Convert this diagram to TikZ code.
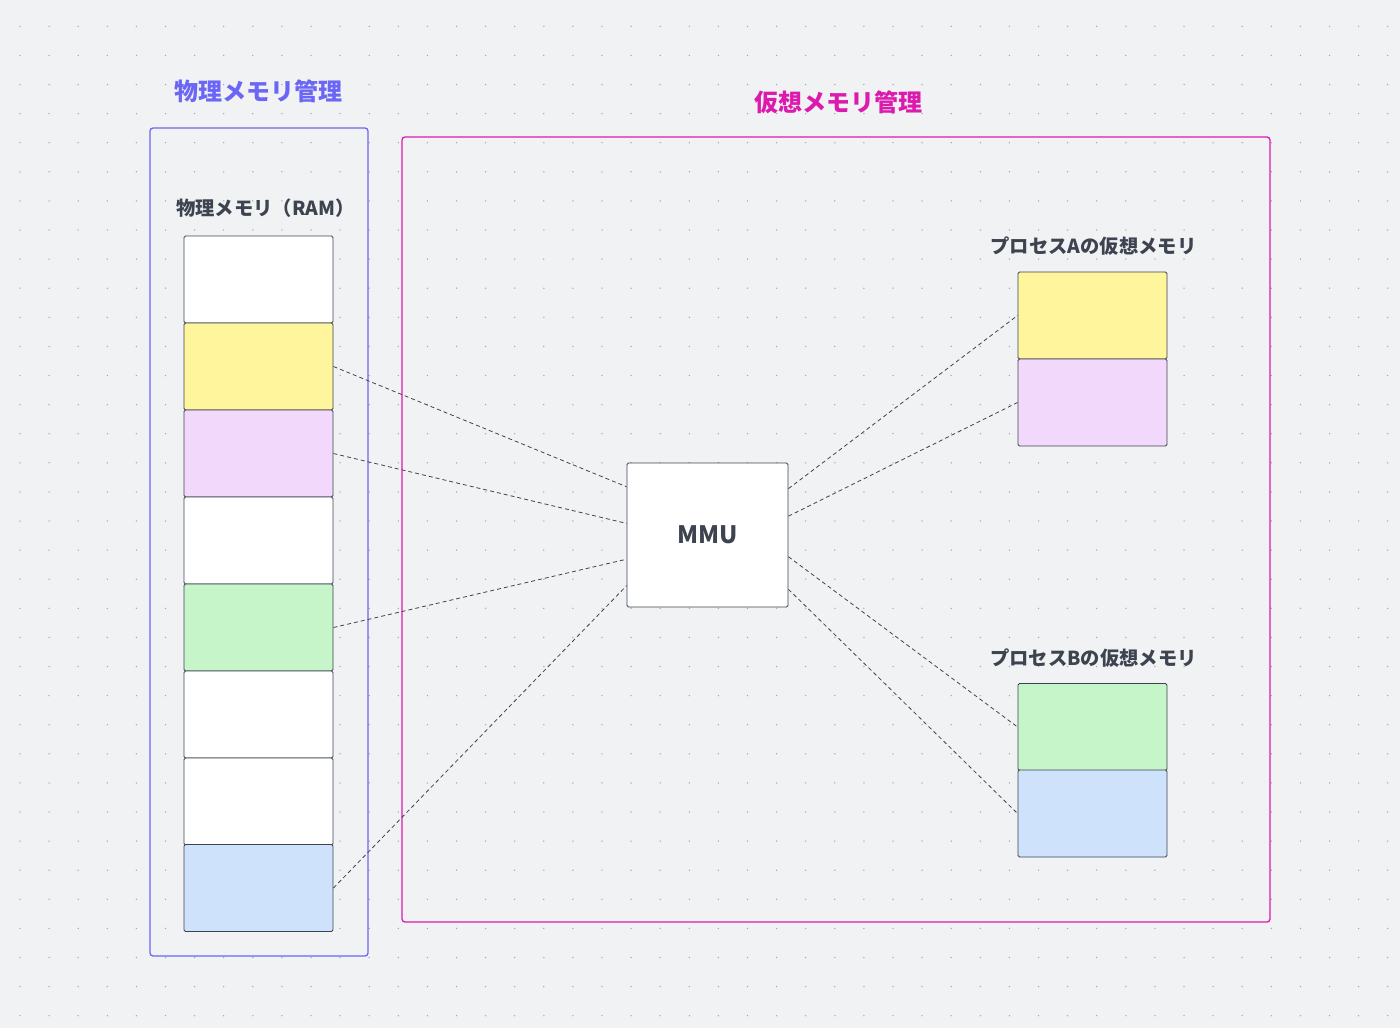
\documentclass[tikz,border=0pt]{standalone}
\usepackage{fontspec}
\setmainfont{Noto Sans CJK JP}
\usetikzlibrary{calc}
\definecolor{bg}{HTML}{F1F2F4}
\definecolor{dotc}{HTML}{A3A7AD}
\definecolor{ink}{HTML}{3D4450}
\definecolor{phys}{HTML}{6B66F5}
\definecolor{virt}{HTML}{DC1AAE}
\definecolor{cyel}{HTML}{FFF59D}
\definecolor{clav}{HTML}{F2D9FB}
\definecolor{cgrn}{HTML}{C5F5C8}
\definecolor{cblu}{HTML}{CFE2FB}
\tikzset{
  cell/.style={draw=ink, line width=0.9pt, rounded corners=1.5pt, minimum width=149pt, minimum height=87pt, inner sep=0pt},
  frame/.style={line width=1.3pt, rounded corners=3pt},
  link/.style={draw=ink, line width=0.8pt, dash pattern=on 4pt off 3pt},
  title/.style={font=\bfseries\fontsize{24}{28}\selectfont, inner sep=0pt},
  label/.style={font=\bfseries\fontsize{19.3}{23}\selectfont, text=ink, inner sep=0pt},
}
\begin{document}
\begin{tikzpicture}[x=1pt,y=-1pt]
\fill[bg] (0,0) rectangle (1400,1028);
\useasboundingbox (0,0) rectangle (1400,1028);
\foreach \i in {0,...,47}{
  \foreach \j in {0,...,34}{
    \fill[dotc] ({20+29.1*\i},{26.3+29.1*\j}) circle (0.75pt);
  }
}
% frames
\draw[frame, draw=phys] (150,128) rectangle (368,956);
\draw[frame, draw=virt] (402,137) rectangle (1270,922);
\node[title, text=phys] (tphys) at (258.5,91) {物理メモリ管理};
\node[title, text=virt] (tvirt) at (838.5,102) {仮想メモリ管理};
% RAM
\node[label] (tram) at (265.5,208) {物理メモリ（RAM）};
\node[cell, fill=white] (r1) at (258.5,279.5) {};
\node[cell, fill=cyel]  (r2) at (258.5,366.5) {};
\node[cell, fill=clav]  (r3) at (258.5,453.5) {};
\node[cell, fill=white] (r4) at (258.5,540.5) {};
\node[cell, fill=cgrn]  (r5) at (258.5,627.5) {};
\node[cell, fill=white] (r6) at (258.5,714.5) {};
\node[cell, fill=white] (r7) at (258.5,801.5) {};
\node[cell, fill=cblu]  (r8) at (258.5,888) {};
% MMU
\node[draw=ink, line width=0.9pt, rounded corners=1.5pt, fill=white, minimum width=161pt, minimum height=144pt, inner sep=0pt,
  font=\bfseries\fontsize{24}{28}\selectfont, text=ink] (mmu) at (707.5,535) {MMU};
% Process A
\node[label] (ta) at (1093.5,246) {プロセスAの仮想メモリ};
\node[cell, fill=cyel] (a1) at (1092.5,315.5) {};
\node[cell, fill=clav] (a2) at (1092.5,402.5) {};
% Process B
\node[label] (tb) at (1093.5,658) {プロセスBの仮想メモリ};
\node[cell, fill=cgrn] (b1) at (1092.5,727) {};
\node[cell, fill=cblu] (b2) at (1092.5,813.5) {};
% links
\draw[link] (r2.east) -- ($(mmu.north west)!0.167!(mmu.south west)$);
\draw[link] (r3.east) -- ($(mmu.north west)!0.42!(mmu.south west)$);
\draw[link] (r5.east) -- ($(mmu.north west)!0.667!(mmu.south west)$);
\draw[link] (r8.east) -- ($(mmu.north west)!0.85!(mmu.south west)$);
\draw[link] ($(mmu.north east)!0.18!(mmu.south east)$) -- (a1.west);
\draw[link] ($(mmu.north east)!0.37!(mmu.south east)$) -- (a2.west);
\draw[link] ($(mmu.north east)!0.65!(mmu.south east)$) -- (b1.west);
\draw[link] ($(mmu.north east)!0.875!(mmu.south east)$) -- (b2.west);
\end{tikzpicture}
\end{document}
